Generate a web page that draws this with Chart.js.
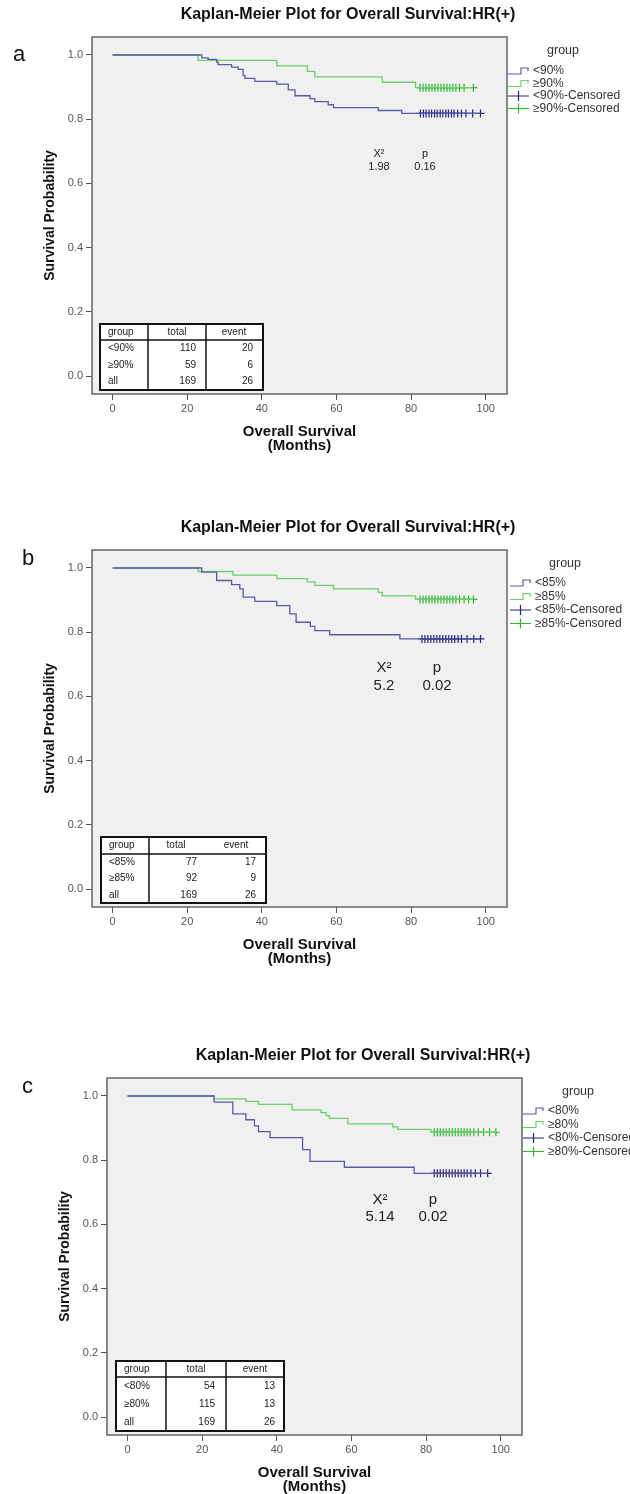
<!DOCTYPE html>
<html>
<head>
<meta charset="utf-8">
<script src="https://cdn.jsdelivr.net/npm/chart.js@4.4.1/dist/chart.umd.min.js"></script>
<style>
html, body { margin: 0; padding: 0; background: #fff; width: 630px; height: 1494px; overflow: hidden; }
body { position: relative; }
canvas { position: absolute; left: 0; }
</style>
</head>
<body>
<canvas id="pa" width="630" height="453" style="top:0px"></canvas>
<canvas id="pb" width="630" height="453" style="top:513px"></canvas>
<canvas id="pc" width="630" height="453" style="top:1041px"></canvas>
<script>
// values
const xTicks = [0, 20, 40, 60, 80, 100];
const yTicks = [0, 0.2, 0.4, 0.6, 0.8, 1.0];
const chartTitle = 'Kaplan-Meier Plot for Overall Survival:HR(+)';

// panel a: cut-off 90%
const aLowT = [0, 23.9, 25.6, 27.9, 28.3, 31.9, 33.7, 35.0, 35.5, 38.1, 44.0, 47.1, 48.9, 52.9, 54.2, 57.8, 59.2, 71.2, 77.5, 98.6];
const aLowS = [1, .991, .986, .978, .970, .962, .955, .936, .927, .918, .909, .891, .873, .864, .855, .845, .836, .827, .818, .818];
const aHighT = [0, 22.9, 44.0, 52.2, 54.2, 72.3, 81.2, 96.7];
const aHighS = [1, .983, .966, .949, .932, .915, .898, .898];
const aLowCens = [82.5, 83.3, 84.0, 84.8, 85.5, 86.3, 87.0, 87.8, 88.5, 89.3, 90.0, 90.8, 91.5, 92.5, 93.5, 94.7, 96.5, 98.6];
const aHighCens = [82.4, 83.2, 84.0, 84.8, 85.6, 86.4, 87.2, 88.0, 88.8, 89.6, 90.4, 91.2, 92.0, 93.0, 94.2, 96.7];
const aLegend = ['<90%', '\u226590%', '<90%-Censored', '\u226590%-Censored'];
const aTable = [['group', 'total', 'event'], ['<90%', '110', '20'], ['\u226590%', '59', '6'], ['all', '169', '26']];
const aStats = ['X\u00b2', 'p', '1.98', '0.16'];

// panel b: cut-off 85%
const bLowT = [0, 23.9, 27.9, 31.9, 34.1, 35.0, 38.1, 44.0, 47.5, 49.2, 53.0, 54.2, 58.2, 77.0, 98.6];
const bLowS = [1, .987, .961, .948, .935, .909, .896, .883, .857, .831, .818, .805, .792, .779, .779];
const bHighT = [0, 22.9, 32.3, 44.0, 52.2, 54.2, 59.2, 71.2, 72.3, 81.2, 96.7];
const bHighS = [1, .989, .978, .967, .957, .946, .935, .924, .913, .902, .902];
const bLowCens = [82.9, 83.7, 84.5, 85.3, 86.1, 86.9, 87.7, 88.5, 89.3, 90.1, 90.9, 91.7, 92.6, 93.5, 95.0, 96.8, 98.6];
const bHighCens = [82.4, 83.2, 84.0, 84.8, 85.6, 86.4, 87.2, 88.0, 88.8, 89.6, 90.4, 91.2, 92.0, 93.0, 94.2, 95.4, 96.7];
const bLegend = ['<85%', '\u226585%', '<85%-Censored', '\u226585%-Censored'];
const bTable = [['group', 'total', 'event'], ['<85%', '77', '17'], ['\u226585%', '92', '9'], ['all', '169', '26']];
const bStats = ['X\u00b2', 'p', '5.2', '0.02'];

// panel c: cut-off 80%
const cLowT = [0, 23.2, 28.2, 31.7, 34.0, 35.1, 38.2, 46.9, 48.9, 58.1, 76.8, 96.5];
const cLowS = [1, .981, .944, .926, .907, .889, .870, .833, .796, .778, .759, .759];
const cHighT = [0, 23.2, 31.7, 35.1, 44.1, 51.8, 53.2, 54.1, 59.0, 71.1, 72.4, 81.3, 98.7];
const cHighS = [1, .991, .983, .974, .957, .948, .939, .930, .913, .904, .896, .887, .887];
const cLowCens = [82.2, 83.0, 83.8, 84.6, 85.4, 86.2, 87.0, 87.8, 88.6, 89.4, 90.2, 91.0, 92.0, 93.2, 94.6, 96.5];
const cHighCens = [82.2, 83.0, 83.8, 84.6, 85.4, 86.2, 87.0, 87.8, 88.6, 89.4, 90.2, 91.0, 91.8, 92.8, 94.0, 95.4, 97.0, 98.7];
const cLegend = ['<80%', '\u226580%', '<80%-Censored', '\u226580%-Censored'];
const cTable = [['group', 'total', 'event'], ['<80%', '54', '13'], ['\u226580%', '115', '13'], ['all', '169', '26']];
const cStats = ['X\u00b2', 'p', '5.14', '0.02'];

const FONT = '"Liberation Sans", Arial, Helvetica, sans-serif';
const LOW_LINE = '#5a5aa6', LOW_CROSS = '#25257c';
const HIGH_LINE = '#6ccf6c', HIGH_CROSS = '#2fb52f';

function steps(t, s) { return t.map((v, i) => ({x: v, y: s[i]})); }
function cens(t, level) { return t.map(v => ({x: v, y: level})); }

function legendStep(ctx, x, y, color) {
  ctx.strokeStyle = color; ctx.lineWidth = 1.2;
  ctx.beginPath();
  ctx.moveTo(x, y + 3); ctx.lineTo(x + 13, y + 3); ctx.lineTo(x + 13, y - 3);
  ctx.lineTo(x + 20, y - 3); ctx.lineTo(x + 20, y);
  ctx.stroke();
}
function legendCross(ctx, x, y, color) {
  ctx.strokeStyle = color; ctx.lineWidth = 1.2;
  ctx.beginPath();
  ctx.moveTo(x, y); ctx.lineTo(x + 21, y);
  ctx.moveTo(x + 10.5, y - 5); ctx.lineTo(x + 10.5, y + 5);
  ctx.stroke();
}

function makePanel(id, p) {
  const decor = {
    id: 'decor',
    beforeDatasetsDraw(chart) {
      const {ctx, chartArea: a} = chart;
      ctx.save();
      ctx.fillStyle = '#f0f0f0';
      ctx.fillRect(a.left, a.top, a.right - a.left, a.bottom - a.top);
      ctx.restore();
    },
    afterDraw(chart) {
      const {ctx, chartArea: a} = chart;
      ctx.save();
      // plot frame
      ctx.strokeStyle = '#666'; ctx.lineWidth = 1.5;
      ctx.strokeRect(a.left, a.top, a.right - a.left, a.bottom - a.top);
      // title and panel letter
      ctx.fillStyle = '#111'; ctx.textBaseline = 'middle'; ctx.textAlign = 'center';
      ctx.font = 'bold 16px ' + FONT;
      ctx.fillText(chartTitle, p.titleX, 15);
      ctx.font = '22px ' + FONT; ctx.textAlign = 'left';
      ctx.fillText(p.letter, p.letterX, p.letterY);
      // legend
      ctx.fillStyle = '#333'; ctx.textAlign = 'center';
      ctx.font = '12.5px ' + FONT;
      ctx.fillText('group', p.legX + 55, 51);
      ctx.font = '12px ' + FONT; ctx.textAlign = 'left';
      const cols = [LOW_LINE, HIGH_LINE, LOW_CROSS, HIGH_CROSS];
      p.legend.forEach((lab, i) => {
        const y = p.legY + i * p.legGap;
        if (i < 2) legendStep(ctx, p.legX, y, cols[i]); else legendCross(ctx, p.legX, y, cols[i]);
        ctx.fillStyle = '#333';
        ctx.fillText(lab, p.legX + 25, y);
      });
      // chi-square and p
      ctx.fillStyle = '#222'; ctx.textAlign = 'center';
      ctx.font = p.statFont + 'px ' + FONT;
      ctx.fillText(p.stats[0], p.statX[0], p.statY[0]);
      ctx.fillText(p.stats[1], p.statX[1], p.statY[0]);
      ctx.fillText(p.stats[2], p.statX[0], p.statY[1]);
      ctx.fillText(p.stats[3], p.statX[1], p.statY[1]);
      // count table
      const tb = p.tbl;
      ctx.fillStyle = '#fff';
      ctx.fillRect(tb.l, tb.t, tb.r - tb.l, tb.b - tb.t);
      ctx.strokeStyle = '#111'; ctx.lineWidth = 2;
      ctx.strokeRect(tb.l, tb.t, tb.r - tb.l, tb.b - tb.t);
      ctx.lineWidth = 1.5;
      ctx.beginPath();
      ctx.moveTo(tb.l, tb.h); ctx.lineTo(tb.r, tb.h);
      tb.seps.forEach(sx => { ctx.moveTo(sx, tb.t); ctx.lineTo(sx, tb.b); });
      ctx.stroke();
      ctx.font = '10px ' + FONT; ctx.fillStyle = '#222';
      const rowsY = [(tb.t + tb.h) / 2, tb.h + (tb.b - tb.h) / 6, tb.h + (tb.b - tb.h) / 2, tb.h + (tb.b - tb.h) * 5 / 6];
      p.table.forEach((row, ri) => {
        const y = rowsY[ri];
        ctx.textAlign = 'left';
        ctx.fillText(row[0], tb.l + 8, y);
        if (ri === 0) {
          ctx.textAlign = 'center';
          ctx.fillText(row[1], tb.hx[0], y);
          ctx.fillText(row[2], tb.hx[1], y);
        } else {
          ctx.textAlign = 'right';
          ctx.fillText(row[1], tb.vx[0], y);
          ctx.fillText(row[2], tb.vx[1], y);
        }
      });
      ctx.restore();
    }
  };

  const axisFont = {family: FONT, size: 11};
  return new Chart(document.getElementById(id), {
    type: 'line',
    data: {
      datasets: [
        {data: steps(p.lowT, p.lowS), borderColor: LOW_LINE, borderWidth: 1.3, stepped: true, pointRadius: 0, fill: false},
        {data: steps(p.highT, p.highS), borderColor: HIGH_LINE, borderWidth: 1.3, stepped: true, pointRadius: 0, fill: false},
        {data: cens(p.lowCens, p.lowS[p.lowS.length - 1]), showLine: false, pointStyle: 'cross', pointRadius: 4,
         pointBorderColor: LOW_CROSS, pointBorderWidth: 1.2, pointHoverRadius: 4},
        {data: cens(p.highCens, p.highS[p.highS.length - 1]), showLine: false, pointStyle: 'cross', pointRadius: 4,
         pointBorderColor: HIGH_CROSS, pointBorderWidth: 1.2, pointHoverRadius: 4}
      ]
    },
    options: {
      responsive: false,
      animation: false,
      events: [],
      layout: {padding: {left: 0, right: 630 - p.boxR, top: 37, bottom: 0}},
      plugins: {legend: {display: false}, tooltip: {enabled: false}, title: {display: false}},
      scales: {
        x: {
          type: 'linear', min: -5.5, max: 105.7,
          afterBuildTicks: s => { s.ticks = xTicks.map(v => ({value: v})); },
          afterFit: s => { s.height = 59; },
          ticks: {font: axisFont, color: '#555', padding: 2, maxRotation: 0, callback: v => String(v)},
          grid: {drawOnChartArea: false, drawTicks: true, tickLength: 6, color: '#555'},
          border: {display: false},
          title: {display: true, text: ['Overall Survival', '(Months)'], color: '#111',
                  font: {family: FONT, size: 15, weight: 'bold', lineHeight: 0.93}, padding: {top: 0, bottom: 0}}
        },
        y: {
          min: -0.056, max: 1.056,
          afterBuildTicks: s => { s.ticks = yTicks.map(v => ({value: v})); },
          afterFit: s => { s.width = p.boxL; },
          ticks: {font: axisFont, color: '#555', padding: 3, callback: v => v.toFixed(1)},
          grid: {drawOnChartArea: false, drawTicks: true, tickLength: 6, color: '#555'},
          border: {display: false},
          title: {display: true, text: 'Survival Probability', color: '#111',
                  font: {family: FONT, size: 14, weight: 'bold', lineHeight: 1.2}, padding: {top: p.boxL - 50.4, bottom: 0}}
        }
      }
    },
    plugins: [decor]
  });
}

makePanel('pa', {
  letter: 'a', letterX: 13, letterY: 55, titleX: 348, boxL: 92, boxR: 507,
  lowT: aLowT, lowS: aLowS, highT: aHighT, highS: aHighS, lowCens: aLowCens, highCens: aHighCens,
  legend: aLegend, legX: 508, legY: 71, legGap: 12.5,
  stats: aStats, statFont: 11, statX: [379, 425], statY: [154, 167],
  table: aTable,
  tbl: {l: 100, r: 263, t: 324, b: 390, h: 340, seps: [148, 206], hx: [177, 234], vx: [196, 253]}
});
makePanel('pb', {
  letter: 'b', letterX: 22, letterY: 46, titleX: 348, boxL: 92, boxR: 507,
  lowT: bLowT, lowS: bLowS, highT: bHighT, highS: bHighS, lowCens: bLowCens, highCens: bHighCens,
  legend: bLegend, legX: 510, legY: 70, legGap: 13.5,
  stats: bStats, statFont: 15, statX: [384, 437], statY: [155, 173],
  table: bTable,
  tbl: {l: 101, r: 266, t: 324, b: 390, h: 341, seps: [149], hx: [176, 236], vx: [197, 256]}
});
makePanel('pc', {
  letter: 'c', letterX: 22, letterY: 46, titleX: 363, boxL: 107, boxR: 522,
  lowT: cLowT, lowS: cLowS, highT: cHighT, highS: cHighS, lowCens: cLowCens, highCens: cHighCens,
  legend: cLegend, legX: 523, legY: 70, legGap: 13.5,
  stats: cStats, statFont: 15, statX: [380, 433], statY: [159, 176],
  table: cTable,
  tbl: {l: 116, r: 284, t: 320, b: 390, h: 336, seps: [166, 226], hx: [196, 255], vx: [215, 275]}
});
</script>
</body>
</html>
